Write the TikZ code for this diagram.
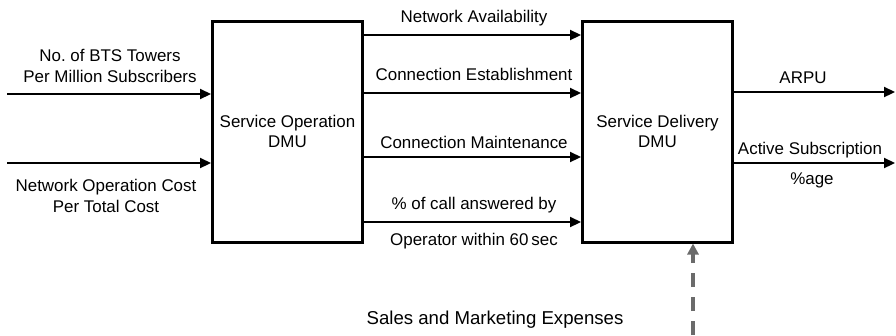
\documentclass[tikz,border=0pt]{standalone}
\usepackage{fontspec}
\setmainfont{Liberation Sans}
\usetikzlibrary{arrows.meta}
\definecolor{dashgray}{rgb}{0.42,0.42,0.42}

\begin{document}
\begin{tikzpicture}
  [x=1bp,y=-1bp,font=\fontsize{17}{20.5}\selectfont,
   dmu/.style={draw,line width=3bp,minimum width=150bp,minimum height=221bp,align=center,inner sep=0pt},
   flow/.style={line width=2.2bp,-{Triangle[length=11bp,width=10bp]}},
   lbl/.style={anchor=base,inner sep=0pt,align=center}]

  \useasboundingbox (0,0) rectangle (896,335);

  \node[dmu] (sop) at (287.5,131.5) {Service Operation\\DMU};
  \node[dmu] (sdl) at (657.5,131.5) {Service Delivery\\DMU};

  \coordinate (in1) at (7,94);
  \coordinate (in2) at (7,163);
  \coordinate (out1) at (895,92);
  \coordinate (out2) at (895,163);
  \coordinate (sme) at (693,335);

  \foreach \a in {in1,in2}
    \draw[flow] (\a) -- (\a -| sop.west);
  \foreach \y in {35,93,157,222}
    \draw[flow] (sop.east |- 0,\y) -- (sdl.west |- 0,\y);
  \foreach \b in {out1,out2}
    \draw[flow] (sdl.east |- \b) -- (\b);
  \draw[line width=4bp,dashgray,dash pattern=on 14bp off 10bp,
        -{Triangle[length=11bp,width=11bp]}] (sme) -- (sme |- sdl.south);

  \node[lbl] (bts) at (110,82) {No.\ of BTS Towers\\Per Million Subscribers};
  \node[lbl] (noc) at (106,212) {Network Operation Cost\\Per Total Cost};
  \node[lbl] (na) at (474,22) {Network Availability};
  \node[lbl] (ce) at (474,80) {Connection Establishment};
  \node[lbl] (cm) at (474,148) {Connection Maintenance};
  \node[lbl] (ca) at (474,209) {\% of call answered by};
  \node[lbl] (op) at (474,245) {Operator within 60\,sec};
  \node[lbl] (arpu) at (803,83) {ARPU};
  \node[lbl] (as) at (810,154) {Active Subscription};
  \node[lbl] (age) at (812,184) {\%age};
  \node[lbl,font=\fontsize{18.7}{22}\selectfont] (sm) at (495,324) {Sales and Marketing Expenses};
\end{tikzpicture}
\end{document}
